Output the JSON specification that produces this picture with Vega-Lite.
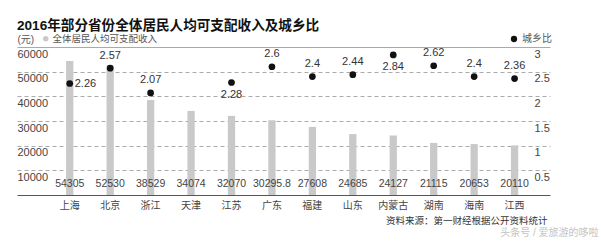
{
  "$schema": "https://vega.github.io/schema/vega-lite/v6.json",
  "autosize": {"type": "none"},
  "width": 533,
  "height": 148,
  "padding": {"left": 17, "top": 47, "right": 51, "bottom": 47},
  "background": "white",
  "title": {
    "text": "2016年部分省份全体居民人均可支配收入及城乡比",
    "anchor": "start",
    "frame": "group",
    "fontSize": 13.6,
    "fontWeight": "bold",
    "color": "#111",
    "offset": 0,
    "dy": -1
  },
  "config": {
    "font": "'Liberation Sans', 'Noto Sans CJK SC'",
    "view": {"stroke": null}
  },
  "data": {
    "values": [
      {"province": "上海", "income": 54305, "label": "54305", "ratio": 2.26},
      {"province": "北京", "income": 52530, "label": "52530", "ratio": 2.57},
      {"province": "浙江", "income": 38529, "label": "38529", "ratio": 2.07},
      {"province": "天津", "income": 34074, "label": "34074", "ratio": null},
      {"province": "江苏", "income": 32070, "label": "32070", "ratio": 2.28},
      {"province": "广东", "income": 30295.8, "label": "30295.8", "ratio": 2.6},
      {"province": "福建", "income": 27608, "label": "27608", "ratio": 2.4},
      {"province": "山东", "income": 24685, "label": "24685", "ratio": 2.44},
      {"province": "内蒙古", "income": 24127, "label": "24127", "ratio": 2.84},
      {"province": "湖南", "income": 21115, "label": "21115", "ratio": 2.62},
      {"province": "海南", "income": 20653, "label": "20653", "ratio": 2.4},
      {"province": "江西", "income": 20110, "label": "20110", "ratio": 2.36}
    ]
  },
  "encoding": {
    "x": {
      "field": "province",
      "type": "nominal",
      "sort": null,
      "scale": {"paddingInner": 0.82, "paddingOuter": 1.123, "align": 0.607},
      "axis": {
        "orient": "bottom",
        "labelAngle": 0,
        "labelFontSize": 10,
        "labelColor": "#444",
        "labelPadding": 5,
        "ticks": false,
        "tickSize": 0,
        "domainColor": "#555",
        "domainWidth": 1,
        "grid": false,
        "title": "资料来源：第一财经根据公开资料统计",
        "titleFontSize": 9.5,
        "titleFontWeight": "normal",
        "titleColor": "#333",
        "titleAnchor": "end",
        "titleAlign": "right",
        "titleBaseline": "middle",
        "titleX": 530,
        "titleY": 25
      }
    }
  },
  "layer": [
    {
      "layer": [
        {
          "mark": {"type": "bar"},
          "encoding": {
            "y": {
              "field": "income",
              "type": "quantitative",
              "scale": {"domain": [0, 60000], "nice": false},
              "axis": {
                "orient": "left",
                "values": [10000, 20000, 30000, 40000, 50000, 60000],
                "tickCount": 20,
                "format": "d",
                "domain": false,
                "ticks": false,
                "tickSize": 0,
                "labelOverlap": false,
                "labelAlign": "left",
                "labelBaseline": "middle",
                "labelPadding": 0,
                "labelOffset": 7,
                "labelFontSize": 11,
                "labelColor": "#444",
                "grid": true,
                "gridColor": "#aaa",
                "gridWidth": 1,
                "gridDash": {"condition": {"test": "datum.value === 60000", "value": []}, "value": [4, 3]},
                "title": "(元)",
                "titleAngle": 0,
                "titleAlign": "left",
                "titleBaseline": "middle",
                "titleX": 0,
                "titleY": -8,
                "titleFontSize": 10,
                "titleFontWeight": "normal",
                "titleColor": "#555"
              }
            },
            "color": {
              "datum": "全体居民人均可支配收入",
              "scale": {"range": ["#c9c9c9"]},
              "legend": {
                "orient": "none",
                "legendX": 24,
                "legendY": -13,
                "title": null,
                "symbolType": "circle",
                "symbolSize": 30,
                "labelOffset": 2,
                "labelFontSize": 9.5,
                "labelColor": "#555"
              }
            }
          }
        },
        {
          "mark": {"type": "text", "fontSize": 10.5, "color": "#444", "baseline": "middle"},
          "encoding": {
            "y": {"datum": 4400},
            "text": {"field": "label"}
          }
        }
      ]
    },
    {
      "layer": [
        {
          "mark": {"type": "point", "filled": true, "size": 45, "opacity": 1},
          "encoding": {
            "y": {
              "field": "ratio",
              "type": "quantitative",
              "scale": {"domain": [0, 3], "nice": false},
              "axis": {
                "orient": "right",
                "values": [0.5, 1, 1.5, 2, 2.5, 3],
                "tickCount": 20,
                "format": ".1~f",
                "domain": false,
                "ticks": false,
                "tickSize": 0,
                "grid": false,
                "labelOverlap": false,
                "labelAlign": "left",
                "labelBaseline": "middle",
                "labelPadding": -16,
                "labelOffset": 7,
                "labelFontSize": 11,
                "labelColor": "#444",
                "title": "头条号 / 爱旅游的哆啦",
                "titleAngle": 0,
                "titleAlign": "right",
                "titleBaseline": "middle",
                "titleX": 48,
                "titleY": 185,
                "titleFontSize": 10,
                "titleFontWeight": "normal",
                "titleColor": "#c4c4c4"
              }
            },
            "color": {
              "datum": "城乡比",
              "scale": {"range": ["#111111"]},
              "legend": {
                "orient": "none",
                "legendX": 492,
                "legendY": -13,
                "title": null,
                "symbolType": "circle",
                "symbolSize": 40,
                "labelOffset": 3,
                "labelFontSize": 10,
                "labelColor": "#555"
              }
            }
          }
        },
        {
          "transform": [{"filter": "indexof(['上海','江苏','内蒙古'], datum.province) < 0"}],
          "mark": {"type": "text", "fontSize": 11, "color": "#333", "baseline": "middle", "dy": -12.5},
          "encoding": {"y": {"field": "ratio", "type": "quantitative"}, "text": {"field": "ratio"}}
        },
        {
          "transform": [{"filter": "datum.province === '上海'"}],
          "mark": {"type": "text", "fontSize": 11, "color": "#333", "baseline": "middle", "align": "left", "dx": 5},
          "encoding": {"y": {"field": "ratio", "type": "quantitative"}, "text": {"field": "ratio"}}
        },
        {
          "transform": [{"filter": "datum.province === '江苏' || datum.province === '内蒙古'"}],
          "mark": {"type": "text", "fontSize": 11, "color": "#333", "baseline": "middle", "dy": 12.5},
          "encoding": {"y": {"field": "ratio", "type": "quantitative"}, "text": {"field": "ratio"}}
        }
      ]
    }
  ],
  "resolve": {"scale": {"y": "independent", "color": "independent"}}
}
